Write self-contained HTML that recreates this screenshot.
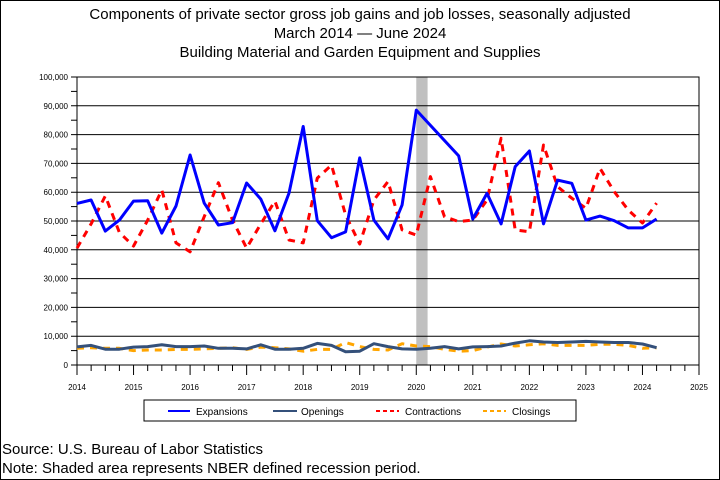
<!DOCTYPE html>
<html><head><meta charset="utf-8"><style>
body{margin:0;background:#fff;}
svg{display:block;font-family:"Liberation Sans",sans-serif;}
</style></head><body>
<svg id="chart" width="720" height="480" viewBox="0 0 720 480">
<rect x="0.5" y="0.5" width="719" height="479" fill="#fff" stroke="#000"/>
<g font-size="15" text-anchor="middle">
<text x="360" y="19">Components of private sector gross job gains and job losses, seasonally adjusted</text>
<text x="360" y="38">March 2014 — June 2024</text>
<text x="360" y="57">Building Material and Garden Equipment and Supplies</text>
</g>
<g id="plot"></g>
<g>
<rect x="144" y="400" width="432" height="21" fill="#fff" stroke="#000"/>
<g font-size="10">
<line x1="168" y1="411" x2="190" y2="411" stroke="#0000ff" stroke-width="2"/>
<text x="196" y="415">Expansions</text>
<line x1="273" y1="411" x2="297" y2="411" stroke="#34507a" stroke-width="2"/>
<text x="301" y="415">Openings</text>
<line x1="376" y1="411" x2="399" y2="411" stroke="#ff0000" stroke-width="2" stroke-dasharray="4,3"/>
<text x="405" y="415">Contractions</text>
<line x1="483" y1="411" x2="506" y2="411" stroke="#ffa500" stroke-width="2" stroke-dasharray="4,3"/>
<text x="512" y="415">Closings</text>
</g></g>
<text x="2" y="454" font-size="15">Source: U.S. Bureau of Labor Statistics</text>
<text x="2" y="473" font-size="15">Note: Shaded area represents NBER defined recession period.</text>
</svg>
<script>
const yTicks=[0,10000,20000,30000,40000,50000,60000,70000,80000,90000,100000];
const yearLabels=[2014,2015,2016,2017,2018,2019,2020,2021,2022,2023,2024,2025];
const expansions=[56.1,57.3,46.5,50.3,56.9,57,45.8,55.2,72.9,56.2,48.6,49.4,63.2,57.6,46.6,59.7,82.8,50.1,44.2,46.2,71.9,50.3,43.8,55.6,88.5,null,null,72.6,50.7,59.6,49,68.9,74.3,49,64.2,63.1,50.3,51.7,50.1,47.6,47.6,50.7];
const contractions=[40.6,49,58.7,46,41.3,50.3,60.8,42.4,39.3,51.5,63.3,50.3,40.6,49,56.9,43.4,42.4,64.9,69.4,52.1,42,57.3,63.7,46.9,45.1,65.4,51.5,49.8,50.3,57.3,78.7,46.9,46.3,76.4,61.9,57.9,54.4,68.3,60.2,53.8,49.3,56.2];
const openings=[6.3,6.8,5.5,5.5,6.2,6.4,7,6.4,6.4,6.6,5.8,5.8,5.6,7,5.5,5.5,5.8,7.5,6.8,4.6,4.8,7.4,6.4,5.6,5.5,5.8,6.4,5.6,6.3,6.4,6.6,7.6,8.4,8,7.8,8,8.2,8,7.8,7.8,7.3,6];
const closings=[5.8,6,5.8,5.8,5,5.2,5.2,5.4,5.4,5.6,5.8,6,5.4,6.2,6,5.6,4.8,5.4,5.4,7.8,6.4,5.4,5.2,7.4,6.6,6.4,5.4,4.8,5,6.2,7.3,6.6,7,7.4,6.8,6.8,6.8,7.2,7.2,6.8,5.8,6];
const recession=[2020.0,2020.2];
const X0=77,X1=699,Y0=365,Y1=77;
const xs=t=>X0+(t-2014)/(2025-2014)*(X1-X0);
const ys=v=>Y0-v/100000*(Y0-Y1);
const tq=i=>2014+i*0.25;
const NS='http://www.w3.org/2000/svg';
const plot=document.getElementById('plot');
function mk(tag,a,p){const e=document.createElementNS(NS,tag);for(const k in a)e.setAttribute(k,a[k]);(p||plot).appendChild(e);return e;}
const rec=mk('rect',{x:xs(recession[0]),y:Y1,width:xs(recession[1])-xs(recession[0]),height:Y0-Y1,fill:'#c0c0c0'});


yTicks.forEach(v=>{
 const g=mk('line',{x1:X0-6,x2:X1,y1:ys(v),y2:ys(v),stroke:'#000','stroke-width':1});
 
 
 const t=mk('text',{x:X0-9,y:ys(v)+3,'font-size':8,'text-anchor':'end'});
 t.textContent=v.toLocaleString('en-US');
 
 
 if(v<100000){const m=mk('line',{x1:X0-6,x2:X0,y1:ys(v+5000),y2:ys(v+5000),stroke:'#000'});
 
 }
});
for(let i=0;i<=44;i++){
 const t=2014+i/4, big=i%4==0;
 const l=mk('line',{x1:xs(t),x2:xs(t),y1:Y0,y2:Y0+(big?10:6),stroke:'#000'});
 
 
}
yearLabels.forEach(y=>{
 const t=mk('text',{x:xs(y),y:390,'font-size':8,'text-anchor':'middle'});
 t.textContent=y;
 
 
});
const ax=mk('rect',{x:X0,y:Y1,width:X1-X0,height:Y0-Y1,fill:'none',stroke:'#000'});


function series(arr,scale,color,dash,w,name){
 let d='',pen=false;
 arr.forEach((v,i)=>{if(v==null)return;d+=(pen?'L':'M')+xs(tq(i)).toFixed(1)+','+ys(v*scale).toFixed(1);pen=true;});
 const p=mk('path',{d:d,fill:'none',stroke:color,'stroke-width':w,'stroke-dasharray':dash||'none','stroke-linejoin':'round'});
 
 
}
series(closings,1000,'#ffa500','7,6',3,'closings-line');
series(openings,1000,'#34507a','',3,'openings-line');
series(contractions,1000,'#ff0000','7,6',3,'contractions-line');
series(expansions,1000,'#0000ff','',3,'expansions-line');
</script>
</body></html>
